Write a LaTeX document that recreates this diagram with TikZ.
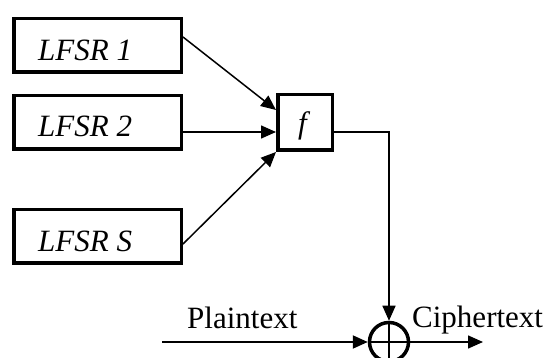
\documentclass[tikz,border=0pt]{standalone}
\usepackage{fontspec}
\setmainfont{Liberation Serif}
\usetikzlibrary{arrows.meta}
\begin{document}
\begin{tikzpicture}[x=1pt,y=-1pt,
  lfsrbox/.style={draw, line width=3.5pt, minimum width=167.5pt, minimum height=53.5pt, inner sep=0pt},
  fbox/.style={draw, line width=3.5pt, minimum width=54.5pt, minimum height=55.5pt, inner sep=0pt},
  xorcirc/.style={draw, circle, line width=3.5pt, minimum size=39pt, inner sep=0pt},
  lbl/.style={anchor=base west, inner sep=0pt, font=\fontsize{31}{37}\selectfont\itshape},
  txt/.style={anchor=base west, inner sep=0pt, font=\fontsize{31}{37}\selectfont},
  conn/.style={line width=1.5pt, -{Triangle[length=15pt,width=13pt]}},
  wire/.style={line width=1.5pt}]
\useasboundingbox (0,0) rectangle (547,358);

% shift register boxes and the combining function
\node[lfsrbox] (l1) at (97.5,45.5) {};
\node[lfsrbox] (l2) at (97.5,122.5) {};
\node[lfsrbox] (l3) at (97.5,236.5) {};
\node[lbl] (t1) at (38,61) {LFSR 1};
\node[lbl] (t2) at (38,137) {LFSR 2};
\node[lbl] (t3) at (38,252) {LFSR S};
\node[fbox] (f) at (305,122.5) {};
\node[lbl] (tf) at (298,134) {f};

% XOR combiner
\node[xorcirc] (xor) at (389,342) {};
\draw[wire] (xor.north) -- (xor.south);
\draw[wire] (xor.west) -- (xor.east);

% input and output ends
\coordinate (pin) at (162,342);
\coordinate (cout) at (483,342);
\node[txt] (plain) at (187,329) {Plaintext};
\node[txt] (cipher) at (412,328) {Ciphertext};

% connectors
\draw[conn] ([yshift=8.5pt]l1.east) -- ([yshift=12.5pt]f.west);
\draw[conn] ([yshift=-9.5pt]l2.east) -- ([yshift=-9.5pt]f.west);
\draw[conn] ([yshift=-7.5pt]l3.east) -- (f.south west);
\draw[conn] ([yshift=-9.5pt]f.east) -| (xor.north);
\draw[conn, line width=2pt] (pin) -- (xor.west);
\draw[conn] (xor.east) -- (cout);
\end{tikzpicture}
\end{document}
